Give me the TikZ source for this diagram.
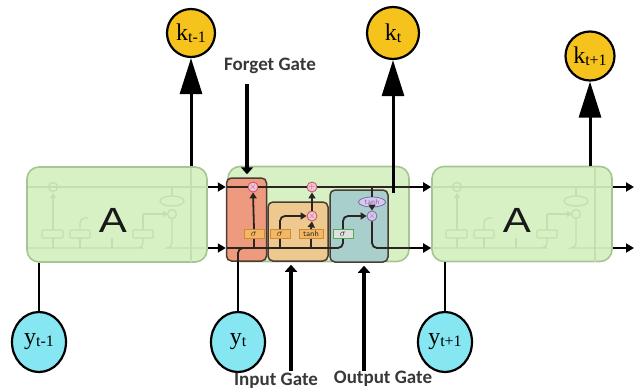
\documentclass[tikz,border=0pt]{standalone}
\usepackage{fontspec}
\setmainfont{Liberation Serif}
\newfontfamily\gatefont{Carlito}
\newfontfamily\blockfont{Liberation Sans}
\usetikzlibrary{arrows.meta,shapes.geometric}

\definecolor{cellgreen}{HTML}{D7F1C5}
\definecolor{celledge}{HTML}{A6C596}
\definecolor{faintline}{HTML}{C3DEB1}
\definecolor{kgold}{HTML}{F6C21C}
\definecolor{ycyan}{HTML}{86E7F2}
\definecolor{forgetred}{HTML}{EE9A7F}
\definecolor{inputtan}{HTML}{EEC98F}
\definecolor{outputblue}{HTML}{A8CFCB}
\definecolor{gateedge}{HTML}{4A3C34}
\definecolor{sigfill}{HTML}{F3B765}
\definecolor{sigedge}{HTML}{CF8A34}
\definecolor{opfill}{HTML}{F5C3D2}
\definecolor{opedge}{HTML}{C0506E}
\definecolor{lavfill}{HTML}{D9C9EE}
\definecolor{lavedge}{HTML}{7D68A8}
\definecolor{wire}{HTML}{2B2420}
\definecolor{gatetext}{HTML}{383838}

\tikzset{
  cellblock/.style={draw=celledge, fill=cellgreen, line width=1.6pt,
    rounded corners=12pt, minimum width=180pt, minimum height=95pt, inner sep=0pt},
  gatebox/.style={draw=gateedge, line width=1.5pt, rounded corners=5pt, inner sep=0pt},
  kcirc/.style={circle, draw=black, fill=kgold, line width=2.2pt,
    minimum size=48pt, inner sep=0pt},
  ycirc/.style={ellipse, draw=black, fill=ycyan, line width=2.2pt,
    minimum width=54pt, minimum height=60pt, inner sep=0pt},
  kline/.style={line width=3pt, -{Triangle[width=22pt,length=36pt]}},
  yline/.style={line width=2.6pt},
  flow/.style={line width=2.4pt, -{Triangle[width=9pt,length=8pt]}},
  gatearrow/.style={line width=4.5pt, -{Triangle[width=12pt,length=7pt]}},
  gatelabel/.style={font=\gatefont\bfseries\fontsize{19}{20}\selectfont, text=gatetext, inner sep=0pt},
  sigbox/.style={draw=sigedge, fill=sigfill, line width=0.8pt, minimum width=20pt,
    minimum height=9pt, inner sep=0pt, font=\fontsize{10}{10}\selectfont, text=wire},
  opcirc/.style={circle, draw=opedge, fill=opfill, line width=0.8pt, minimum size=10pt,
    inner sep=0pt, font=\fontsize{9}{9}\selectfont, text=opedge},
  wireline/.style={draw=wire, line width=1.8pt, rounded corners=5pt},
  wirearrow/.style={wireline, -{Triangle[width=7pt,length=6pt]}},
  ghost/.style={draw=faintline, line width=1.3pt, rounded corners=5pt},
  ghostbox/.style={draw=faintline, line width=1.1pt, rounded corners=1pt},
  klabel/.style={font=\fontsize{24}{24}\selectfont, inner sep=0pt},
  bigletter/.style={font=\blockfont\fontsize{35}{35}\selectfont, text=black!90, inner sep=0pt},
}

% faint sketch of the cell internals, drawn inside the collapsed "A" blocks
% (coordinates measured from the block's left edge)
\newcommand{\ghostcell}{%
  \draw[ghost] (0,187) -- (180,187);
  \draw[ghost] (0,248) -- (110,248) -| (115,238);
  \draw[ghost] (144,218) |- (138,248) -- (180,248);
  \draw[ghost] (25,248) -- (25,238);
  \draw[ghost,-{Triangle[width=6pt,length=5pt]}] (25,230) -- (25,193);
  \draw[ghost] (52,248) -- (52,238);
  \draw[ghost] (52,230) -- (52,218) -- (60,218);
  \draw[ghost] (84,248) -- (84,238);
  \draw[ghost] (115,230) -- (115,214);
  \draw[ghost,-{Triangle[width=6pt,length=5pt]}] (115,214) -- (140,214);
  \draw[ghost] (144,187) -- (144,196);
  \draw[ghost] (163,168) -- (163,262);
  \draw[ghostbox] (14,230) rectangle (35,238);
  \draw[ghostbox] (42,230) rectangle (62,238);
  \draw[ghostbox] (105,230) rectangle (125,238);
  \draw[ghost] (144,201) ellipse (12pt and 5pt);
  \draw[ghost] (144,214) circle (4.5pt);
  \draw[ghost] (25,187) circle (4.5pt);
}

\begin{document}
\begin{tikzpicture}[x=1pt, y=-1pt]
  \useasboundingbox (0,0) rectangle (637,389);

  % ---- the three unrolled time steps ----
  \node[cellblock] (L) at (117,214.5) {};
  \node[cellblock, minimum width=181pt] (M) at (318.5,214) {};
  \node[cellblock] (R) at (522,214) {};

  \begin{scope}[xshift=28pt]\ghostcell\end{scope}
  \begin{scope}[xshift=432pt]\ghostcell\end{scope}

  \node[bigletter] (LA) at (113,220) {\scalebox{1.2}[1]{A}};
  \node[bigletter] (RA) at (517,220) {\scalebox{1.2}[1]{A}};

  % ---- gate regions inside the expanded cell ----
  \node[gatebox, fill=forgetred, minimum width=40pt, minimum height=83pt] (FG) at (246.5,219.5) {};
  \node[gatebox, fill=inputtan, minimum width=60pt, minimum height=59pt] (IG) at (298,231.5) {};
  \node[gatebox, fill=outputblue, minimum width=58pt, minimum height=72pt] (OG) at (359,226) {};

  % heights of the two horizontal wires
  \coordinate (ctop) at (0,187);
  \coordinate (hbot) at (0,248);

  % small operators
  \node[sigbox] (fs) at (254,234) {$\sigma$};
  \node[sigbox] (is) at (280,234) {$\sigma$};
  \node[sigbox, minimum width=24pt, font=\sffamily\fontsize{8}{8}\selectfont] (it) at (311,234) {tanh};
  \node[sigbox, draw=gray!70!green, fill=green!8!gray!25] (os) at (343,234) {$\sigma$};
  \node[opcirc] (fx) at (253,187) {$\times$};
  \node[opcirc] (px) at (312,187) {$+$};
  \node[opcirc] (ix) at (312,216) {$\times$};
  \node[opcirc, draw=lavedge, fill=lavfill, text=lavedge] (ox) at (372,216) {$\times$};
  \node[ellipse, draw=lavedge, fill=lavfill, line width=0.8pt, minimum width=27pt,
        minimum height=10pt, inner sep=0pt, font=\sffamily\fontsize{7.5}{7.5}\selectfont,
        text=lavedge] (th) at (372,202) {tanh};

  % wires of the expanded cell
  \draw[wireline] (M.west |- ctop) -- (fx.west);
  \draw[wireline] (fx.east) -- (px.west);
  \draw[wireline] (px.east) -- (M.east |- ctop);
  \draw[wireline] (M.west |- hbot) -| (os.south);
  \draw[wireline] (238,262) |- (244,248);
  \draw[wireline] (fs.south) -- (fs.south |- hbot);
  \draw[wireline] (is.south) -- (is.south |- hbot);
  \draw[wireline] (it.south) -- (it.south |- hbot);
  \draw[wirearrow] (fs.north) -- (fx.south);
  \draw[wirearrow] (is.north) |- (ix.west);
  \draw[wirearrow] (it.north) -- (ix.south);
  \draw[wirearrow] (ix.north) -- (px.south);
  \draw[wirearrow] (os.north) |- (ox.west);
  \draw[wireline] (th.north |- ctop) -- (th.north);
  \draw[wirearrow] (th.south) -- (ox.north);
  \draw[wireline] (ox.south) |- (M.east |- hbot);

  % ---- state passed between time steps ----
  \draw[flow] (L.east |- ctop) -- (FG.west |- ctop);
  \draw[flow] (L.east |- hbot) -- (FG.west |- hbot);
  \draw[flow] (M.east |- ctop) -- (R.west |- ctop);
  \draw[flow] (M.east |- hbot) -- (R.west |- hbot);
  \coordinate (outc) at (634,187);
  \coordinate (outh) at (634,248);
  \draw[flow] (R.east |- ctop) -- (outc);
  \draw[flow] (R.east |- hbot) -- (outh);

  % ---- outputs k ----
  \node[kcirc] (kprev) at (191,33) {};
  \node[klabel] at (kprev) {k\raisebox{-2pt}{\fontsize{16}{16}\selectfont t-1}};
  \node[kcirc, minimum size=52pt] (kcur) at (393,33) {};
  \node[klabel] at (kcur) {k\raisebox{-2pt}{\fontsize{16}{16}\selectfont t}};
  \node[kcirc, minimum size=49pt] (knext) at (590,56) {};
  \node[klabel] at (knext) {k\raisebox{-2pt}{\fontsize{16}{16}\selectfont t+1}};

  \coordinate (kcurfoot) at (393,193);
  \draw[kline] (kprev.south |- L.north) -- (kprev.south);
  \draw[kline] (kcurfoot) -- (kcur.south);
  \draw[kline] (knext.south |- R.north) -- (knext.south);

  % ---- inputs y ----
  \node[ycirc] (yprev) at (39,342) {};
  \node[klabel] at (yprev) {y\raisebox{-2pt}{\fontsize{16}{16}\selectfont t-1}};
  \node[ycirc] (ycur) at (238,342) {};
  \node[klabel] at (ycur) {y\raisebox{-2pt}{\fontsize{16}{16}\selectfont t}};
  \node[ycirc] (ynext) at (445,342) {};
  \node[klabel] at (ynext) {y\raisebox{-2pt}{\fontsize{16}{16}\selectfont t+1}};

  \draw[yline] (yprev.north) -- (yprev.north |- L.south);
  \draw[yline] (ycur.north) -- (ycur.north |- M.south);
  \draw[yline] (ynext.north) -- (ynext.north |- R.south);

  % ---- gate annotations ----
  \node[gatelabel] (fglabel) at (270,66) {Forget Gate};
  \node[gatelabel] (iglabel) at (276,381) {Input Gate};
  \node[gatelabel] (oglabel) at (383,379) {Output Gate};

  \coordinate (fgtop) at (247,84);
  \coordinate (igfoot) at (291,371);
  \coordinate (ogfoot) at (364,371);
  \draw[gatearrow, shorten >=3pt] (fgtop) -- (fgtop |- FG.north);
  \draw[gatearrow, shorten >=3pt] (igfoot) -- (igfoot |- IG.south);
  \draw[gatearrow, shorten >=3pt] (ogfoot) -- (ogfoot |- OG.south);
\end{tikzpicture}
\end{document}
